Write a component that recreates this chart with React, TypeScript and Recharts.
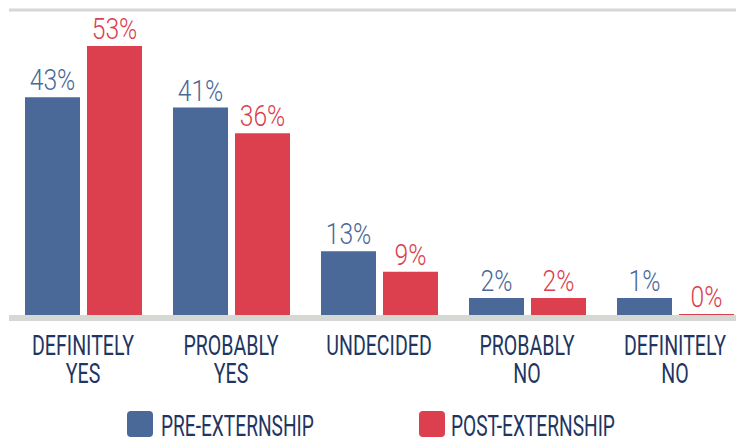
import React from "react";
import {
  BarChart,
  Bar,
  XAxis,
  YAxis,
  CartesianGrid,
  Legend,
  LabelList,
} from "recharts";

const categories = [
  "DEFINITELY YES",
  "PROBABLY YES",
  "UNDECIDED",
  "PROBABLY NO",
  "DEFINITELY NO",
];
const preExternship = [43, 41, 13, 2, 1];
const postExternship = [53, 36, 9, 2, 0];
const yTicks = [0, 20, 40, 60];

const seriesNames = ["PRE-EXTERNSHIP", "POST-EXTERNSHIP"];
const BLUE = "#4a6898";
const RED = "#dc404e";
const GRID = "#d6d8d3";
const NAVY = "#223561";
const FONT = "Roboto, 'DejaVu Sans', sans-serif";

const data = categories.map((c, i) => ({
  name: c,
  pre: preExternship[i],
  post: postExternship[i],
}));

// narrow text: the original uses a condensed face we don't have
function Narrow({ x, y, sx, anchor, children, ...rest }: any) {
  return (
    <text
      transform={`translate(${x},${y}) scale(${sx},1)`}
      textAnchor={anchor}
      fontFamily={FONT}
      {...rest}
    >
      {children}
    </text>
  );
}

function CategoryTick({ x, y, payload }: any) {
  const lines = String(payload.value).split(" ");
  return (
    <Narrow x={x} y={y + 29} sx={0.7} anchor="middle" fontSize={28} fill={NAVY}>
      {lines.map((line, i) => (
        <tspan key={i} x={0} dy={i === 0 ? 0 : 28}>
          {line}
        </tspan>
      ))}
    </Narrow>
  );
}

const valueLabel = (color: string) => (props: any) => {
  const { x, y, width, value } = props;
  return (
    <Narrow
      x={x + width / 2}
      y={y - 7}
      sx={0.85}
      anchor="middle"
      fontSize={29}
      fontWeight={300}
      fill={color}
    >
      {value}%
    </Narrow>
  );
};

function LegendBox() {
  const items = [
    { label: seriesNames[0], color: BLUE, x: 127, tx: 161 },
    { label: seriesNames[1], color: RED, x: 419, tx: 451 },
  ];
  return (
    <svg width={736} height={45} style={{ display: "block", overflow: "visible" }}>
      {items.map((it) => (
        <g key={it.label}>
          <rect x={it.x} y={17} width={26} height={26} rx={4} fill={it.color} />
          <Narrow x={it.tx} y={42} sx={0.66} anchor="start" fontSize={29} fill={NAVY}>
            {it.label}
          </Narrow>
        </g>
      ))}
    </svg>
  );
}

export default function App() {
  return (
    <div
      style={{
        position: "absolute",
        left: 0,
        top: 0,
        width: 736,
        height: 441,
        overflow: "hidden",
        background: "#fff",
      }}
    >
      <BarChart
        width={760}
        height={441}
        data={data}
        margin={{ top: 10, right: 11, bottom: 0, left: 9 }}
        barGap={7}
        barSize={55}
      >
        <CartesianGrid vertical={false} stroke={GRID} strokeWidth={3} />
        <XAxis
          dataKey="name"
          interval={0}
          height={78}
          tickLine={false}
          axisLine={{ stroke: GRID, strokeWidth: 6 }}
          tick={<CategoryTick />}
        />
        <YAxis
          domain={[0, 60]}
          ticks={yTicks}
          width={0}
          tick={false}
          tickLine={false}
          axisLine={{ stroke: GRID, strokeWidth: 6 }}
        />
        <Legend
          verticalAlign="bottom"
          height={45}
          wrapperStyle={{ top: 394, left: 0, bottom: "auto", width: 736 }}
          content={() => <LegendBox />}
        />
        <Bar
          dataKey="pre"
          name={seriesNames[0]}
          fill={BLUE}
          isAnimationActive={false}
          minPointSize={(v: number) => (v === 0 ? 4 : 20)}
        >
          <LabelList dataKey="pre" content={valueLabel(BLUE)} />
        </Bar>
        <Bar
          dataKey="post"
          name={seriesNames[1]}
          fill={RED}
          isAnimationActive={false}
          minPointSize={(v: number) => (v === 0 ? 4 : 20)}
        >
          <LabelList dataKey="post" content={valueLabel(RED)} />
        </Bar>
      </BarChart>
    </div>
  );
}
